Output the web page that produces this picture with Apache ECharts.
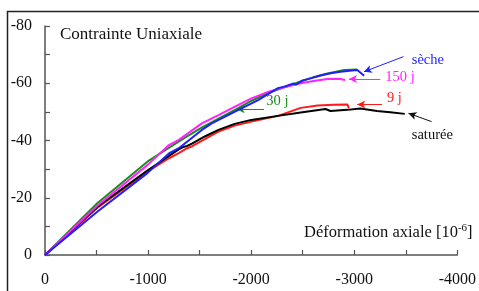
<!DOCTYPE html>
<html>
<head>
<meta charset="utf-8">
<script src="https://cdn.jsdelivr.net/npm/echarts@6/dist/echarts.min.js"></script>
<style>
html,body{margin:0;padding:0;background:#fff;}
#c{width:479px;height:291px;}
</style>
</head>
<body>
<div id="c"></div>
<script>
// ---- data: [strain (1e-6), stress] ----
const xTicks = [0, -1000, -2000, -3000, -4000];
const yTicks = [0, -20, -40, -60, -80];

const seche = [[0,0],[-507,-15.1],[-993,-28.6],[-1202,-35.5],[-1298,-37.3],[-1522,-43.7],[-1618,-46.0],[-1843,-50.1],[-2067,-54.1],[-2260,-58.3],[-2327,-58.9],[-2346,-58.4],[-2413,-59.9],[-2433,-59.5],[-2500,-61.0],[-2519,-60.5],[-2587,-61.8],[-2606,-61.4],[-2673,-62.7],[-2692,-62.3],[-2760,-63.4],[-2779,-63.0],[-2846,-63.9],[-2865,-63.5],[-2933,-64.3],[-2952,-64.0],[-3029,-64.6],[-3096,-62.6]];
const j150 = [[0,0],[-507,-17.2],[-993,-31.4],[-1202,-38.4],[-1298,-40.2],[-1522,-46.0],[-1683,-48.9],[-1843,-51.8],[-2003,-54.7],[-2163,-57.0],[-2320,-58.6],[-2481,-60.0],[-2620,-60.9],[-2740,-61.5],[-2850,-61.6],[-2913,-61.1]];
const j30 = [[0,0],[-507,-18.1],[-993,-32.6],[-1170,-36.7],[-1350,-40.8],[-1520,-44.5],[-1683,-47.6],[-1843,-50.7],[-2000,-53.8],[-2163,-56.6],[-2320,-58.6],[-2481,-60.6],[-2620,-62.3],[-2740,-63.4],[-2904,-64.6],[-3029,-64.8]];
const j9 = [[0,0],[-507,-16.4],[-993,-29.1],[-1202,-33.8],[-1298,-35.6],[-1362,-37.0],[-1420,-37.9],[-1550,-40.5],[-1683,-43.1],[-1840,-45.2],[-2003,-46.6],[-2260,-48.6],[-2481,-51.4],[-2644,-52.2],[-2800,-52.5],[-2933,-52.6],[-2949,-51.2]];
const saturee = [[0,0],[-507,-16.8],[-993,-29.5],[-1202,-34.6],[-1298,-36.9],[-1340,-37.7],[-1380,-38.1],[-1430,-39.0],[-1550,-41.4],[-1683,-43.7],[-1840,-45.8],[-2000,-47.2],[-2260,-48.6],[-2481,-49.8],[-2721,-51.0],[-2769,-50.3],[-2933,-50.7],[-3058,-51.2],[-3221,-50.3],[-3350,-49.9],[-3490,-49.3]];

// annotations: label, colour, text anchor, arrow start, arrow end (data coords)
const notes = [
  {name:'sèche',   color:'#1f1fff', text:[-3558,-68.1], from:[-3478,-69.3], to:[-3093,-64.0]},
  {name:'150 j',   color:'#ff22ff', text:[-3301,-62.1], from:[-3253,-61.5], to:[-2949,-61.5]},
  {name:'9 j',     color:'#ff1a1a', text:[-3317,-54.7], from:[-3269,-52.6], to:[-3029,-52.6]},
  {name:'saturée', color:'#111111', text:[-3558,-41.9], from:[-3750,-46.6], to:[-3526,-49.5]},
  {name:'30 j',    color:'#1e8a1e', text:[-2147,-53.6], from:[-2125,-50.9], to:[-1859,-50.9]}
];

const FONT = '"Liberation Serif","DejaVu Serif",serif';
const chart = echarts.init(document.getElementById('c'), null, {renderer:'canvas'});

function line(data, color, z){
  return {type:'line', data:data, symbol:'none', smooth:false, z:z,
    lineStyle:{color:color, width:2}, animation:false};
}

const arrowSeries = {
  type:'line', data:[], symbol:'none', animation:false, z:10,
  markLine:{
    silent:true, animation:false,
    symbol:['none','arrow'], symbolSize:[6,8],
    label:{show:false},
    data: notes.map(n => [
      {coord:n.from, lineStyle:{color:n.color, width:1, type:'solid'}, itemStyle:{color:n.color}},
      {coord:n.to}
    ])
  }
};

chart.setOption({
  animation:false,
  grid:{left:45, top:26, right:18, bottom:36, containLabel:false},
  xAxis:{
    type:'value', min:-4000, max:0, interval:500, inverse:true,
    axisLine:{show:true, onZero:false, lineStyle:{color:'#555', width:1.5}},
    axisTick:{show:true, inside:true, length:5, lineStyle:{color:'#555', width:1.2}},
    splitLine:{show:false},
    axisLabel:{color:'#111', fontFamily:FONT, fontSize:16, margin:17,
      formatter: v => xTicks.indexOf(v) >= 0 ? String(v) : ''}
  },
  yAxis:{
    type:'value', min:-80, max:0, interval:10, inverse:true,
    axisLine:{show:true, onZero:false, lineStyle:{color:'#555', width:1.5}},
    axisTick:{show:true, inside:true, length:5, lineStyle:{color:'#555', width:1.2}},
    splitLine:{show:false},
    axisLabel:{color:'#111', fontFamily:FONT, fontSize:16, margin:13,
      formatter: v => yTicks.indexOf(v) >= 0 ? String(v) : ''}
  },
  series:[
    line(j30, '#1e8a1e', 2),
    line(j9, '#ff1a1a', 3),
    line(saturee, '#000000', 4),
    line(j150, '#ff22ff', 5),
    line(seche, '#1f1fff', 6),
    arrowSeries
  ]
});

const graphics = [
  {type:'rect', shape:{x:7.5, y:11.5, width:600, height:400}, style:{fill:null, stroke:'#222', lineWidth:1.5}, silent:true, z:0},
  {type:'text', left:60, top:26, style:{text:'Contrainte Uniaxiale', font:'17px '+FONT, fill:'#111'}, z:20},
  {type:'text', x:304, y:233, style:{
     text:'Déformation axiale [10{s|-6}]',
     font:'16.5px '+FONT, fill:'#111', verticalAlign:'middle', align:'left',
     rich:{s:{fontSize:11, fontFamily:FONT, verticalAlign:'top', padding:[0,0,9,0], fill:'#111'}}
  }, z:20}
];
notes.forEach(n => {
  const p = chart.convertToPixel({gridIndex:0}, n.text);
  graphics.push({type:'text', x:p[0], y:p[1], style:{text:n.name, font:'14.5px '+FONT, fill:n.color, align:'left', verticalAlign:'middle'}, z:20});
});
chart.setOption({graphic:graphics});
</script>
</body>
</html>
